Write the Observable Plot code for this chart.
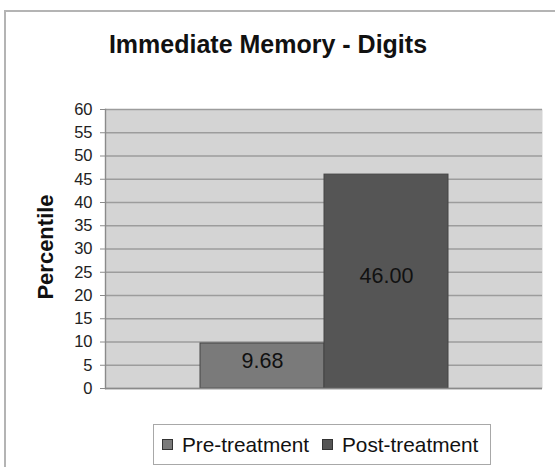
<!DOCTYPE html>
<html>
<head>
<meta charset="utf-8">
<script src="https://cdn.jsdelivr.net/npm/d3@7"></script>
<script src="https://cdn.jsdelivr.net/npm/@observablehq/plot@0.6"></script>
<style>
  html, body { margin: 0; padding: 0; background: #fff; }
  #wrap { position: relative; width: 555px; height: 467px; overflow: hidden; background: #fff;
          font-family: "Liberation Sans", Arial, Helvetica, sans-serif; }
  #border { position: absolute; left: 4px; top: 10px; width: 600px; height: 600px;
            border-left: 2px solid #b4b4b4; border-top: 2px solid #b4b4b4; }
  #title { position: absolute; left: 0; top: 31px; width: 536px; text-align: center;
           font-size: 25px; font-weight: bold; line-height: 26px; color: #111; }
  #chart { position: absolute; left: 0; top: 0; }
  #legend { position: absolute; left: 153px; top: 424px; width: 336px; height: 39px;
            border: 1px solid #a8a8a8; background: #fff; box-sizing: content-box; }
  .item { position: absolute; top: 0; height: 39px; line-height: 39px; font-size: 20.8px; color: #111; white-space: nowrap; }
  .sw { position: absolute; top: 14px; width: 9px; height: 9px; border: 1px solid #333; }
</style>
</head>
<body>
<div id="wrap">
  <div id="border"></div>
  <div id="chart"></div>
  <div id="title"></div>
  <div id="legend"></div>
</div>
<script>
const titleText = "Immediate Memory - Digits";
const yLabel = "Percentile";
const series = ["Pre-treatment", "Post-treatment"];
const values = [9.68, 46.00];
const colors = ["#7a7a7a", "#555555"];
const yTicks = [0, 5, 10, 15, 20, 25, 30, 35, 40, 45, 50, 55, 60];

const data = series.map((s, i) => ({series: s, value: values[i]}));

document.getElementById("title").textContent = titleText;

const chart = Plot.plot({
  width: 555,
  height: 467,
  marginLeft: 105,
  marginRight: 13,
  marginTop: 109,
  marginBottom: 79,
  style: {fontFamily: "'Liberation Sans', Arial, Helvetica, sans-serif", background: "transparent", overflow: "visible"},
  x: {domain: series, paddingInner: 0, paddingOuter: 0.762, axis: null},
  y: {domain: [0, 60], axis: null},
  color: {domain: series, range: colors},
  marks: [
    Plot.frame({fill: "#d4d4d4", stroke: null}),
    Plot.ruleY(yTicks, {stroke: "#9c9c9c", strokeWidth: 1.4}),
    Plot.barY(data, {x: "series", y: "value", fill: "series", stroke: "#444", strokeWidth: 1}),
    Plot.ruleY([0], {stroke: "#8a8a8a", strokeWidth: 1.4}),
    Plot.frame({anchor: "left", stroke: "#8a8a8a", strokeWidth: 1.4}),
    Plot.text(data, {x: "series", y: d => d.value / 2, text: d => d.value.toFixed(2), fontSize: 21.5, dy: -5, fill: "#111"}),
    Plot.axisY({ticks: yTicks, tickSize: 5, tickPadding: 8, fontSize: 16.5, stroke: "#8a8a8a", fill: "#222", label: null, tickFormat: d => String(d)}),
    Plot.text([yLabel], {frameAnchor: "left", textAnchor: "middle", dx: -60, dy: -2, rotate: -90, fontSize: 22, fontWeight: "bold", fill: "#111"})
  ]
});
document.getElementById("chart").appendChild(chart);

const legend = document.getElementById("legend");
const legendX = [[8, 28], [168, 188]];
series.forEach((s, i) => {
  const sw = document.createElement("div");
  sw.className = "sw";
  sw.style.left = legendX[i][0] + "px";
  sw.style.background = colors[i];
  legend.appendChild(sw);
  const it = document.createElement("div");
  it.className = "item";
  it.style.left = legendX[i][1] + "px";
  it.textContent = s;
  legend.appendChild(it);
});
</script>
</body>
</html>
